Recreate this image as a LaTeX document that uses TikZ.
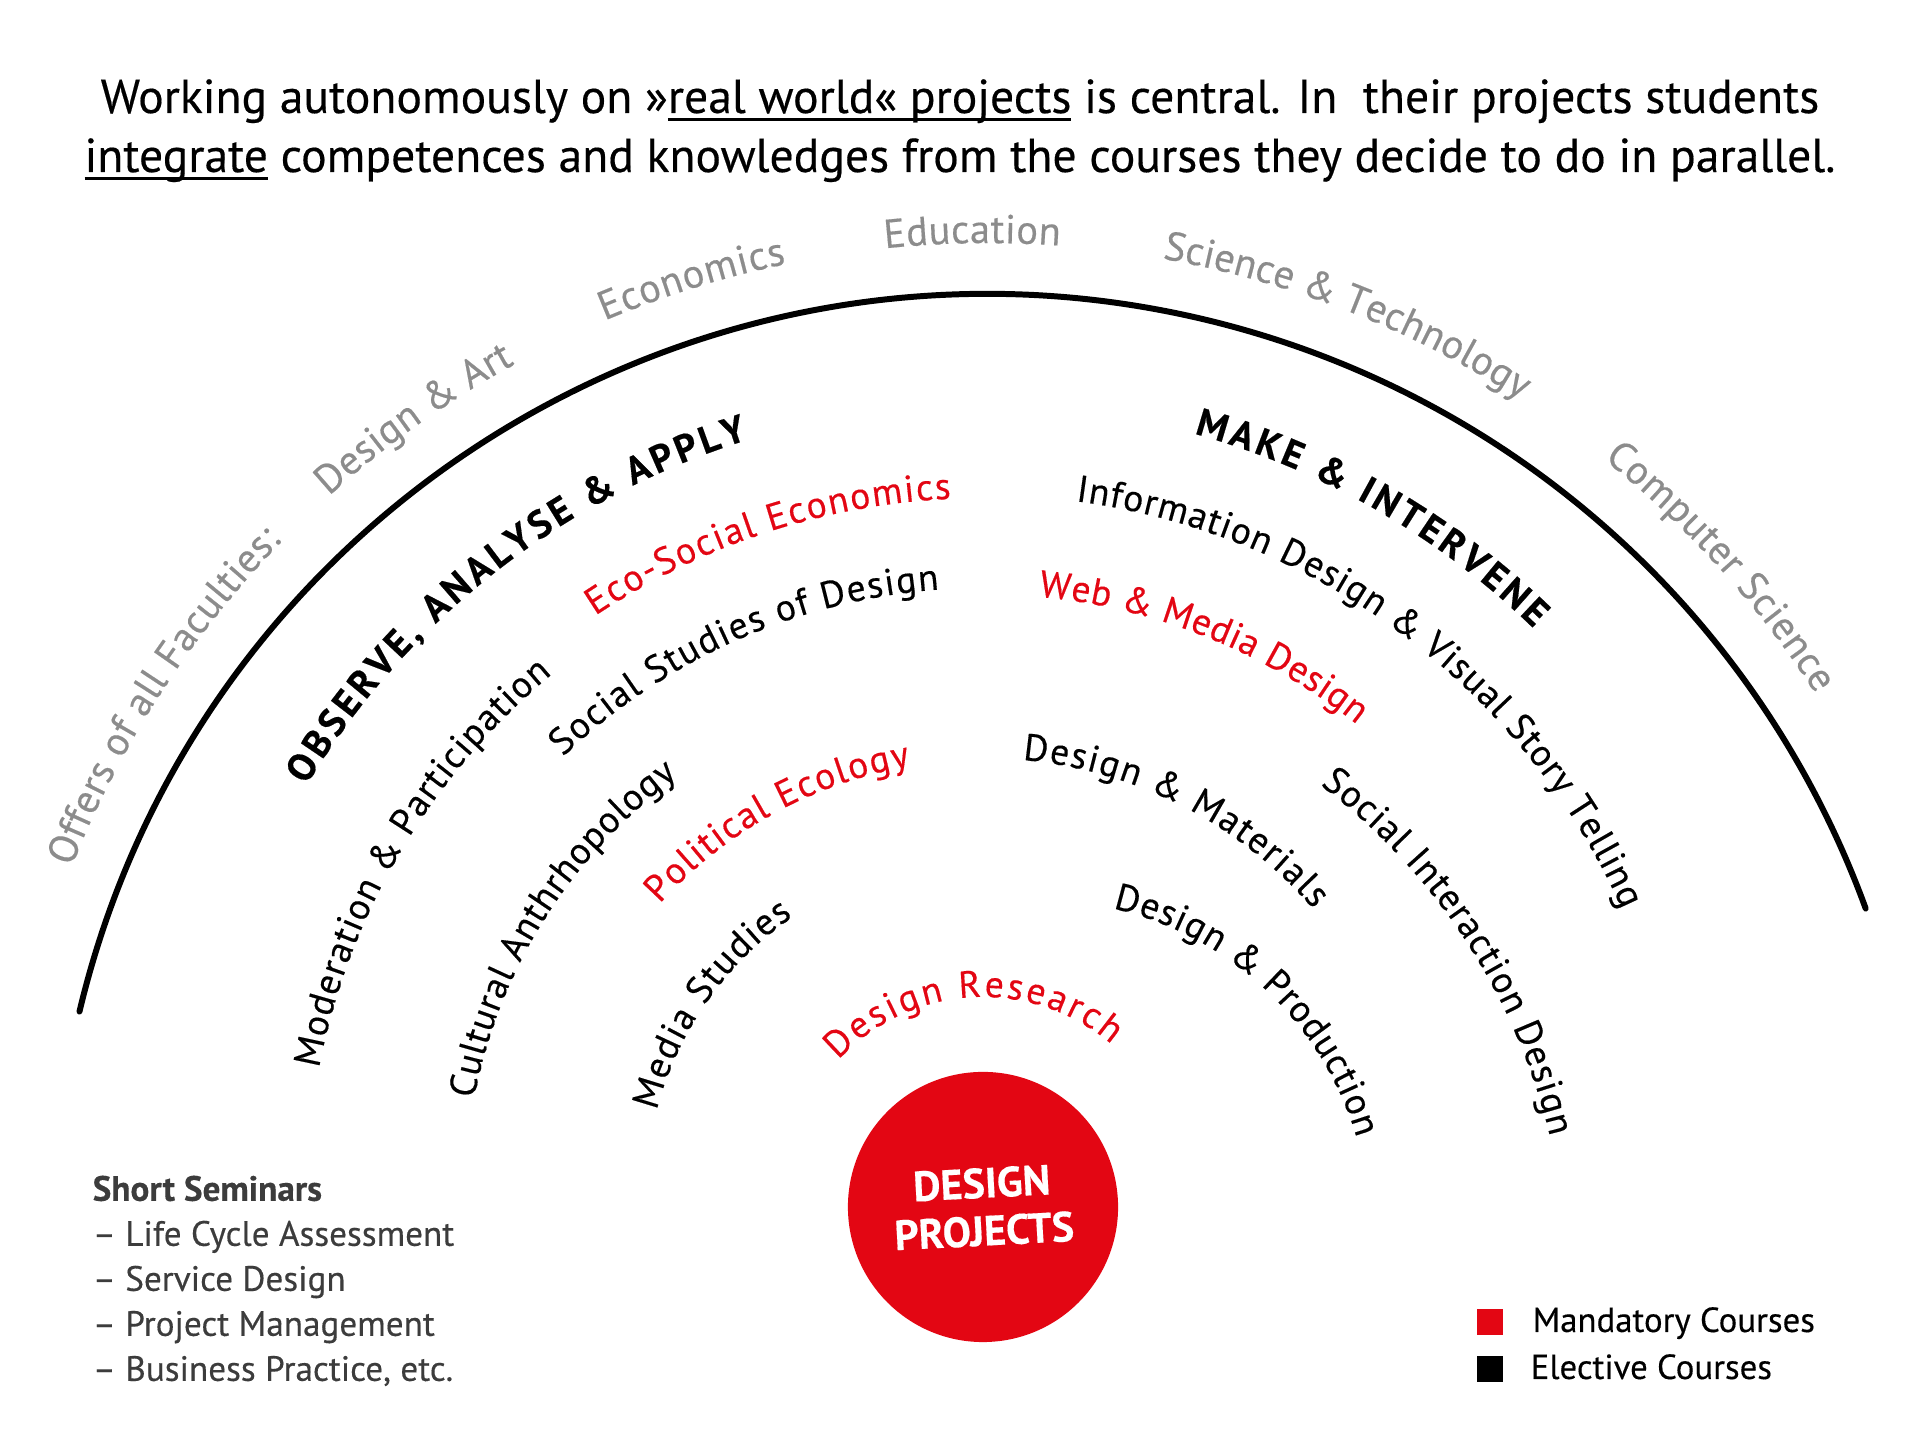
\documentclass[tikz,border=0pt]{standalone}
\usepackage{fontspec}
\setmainfont{PT Sans}[FakeBold=0.35]
\usetikzlibrary{decorations.text}
\definecolor{hsred}{RGB}{227,6,19}
\definecolor{facgray}{HTML}{8C8C8C}
\definecolor{semgray}{HTML}{3C3C3C}
\newcommand\facstyle{\fontsize{11.5}{14}\selectfont\color{facgray}}
\newcommand\crsstyle{\fontsize{10.7}{13}\selectfont}
\newcommand\redstyle{\fontsize{10.7}{13}\selectfont\color{hsred}}
\newcommand\fieldstyle{\fontsize{11}{13}\selectfont\bfseries}
\newcommand\ulin[1]{\setbox0\hbox{#1}\rlap{\rule[-2.4pt]{\wd0}{0.95pt}}\box0\relax}
\newcommand\arclabel[6]{\path[decorate,decoration={text along path,text align={fit to path},text={|#5|#6}}] (#1) ++(#3:#2) arc[start angle=#3,end angle=#4,radius=#2];}

\begin{document}
\begin{tikzpicture}[x=0.01cm,y=0.01cm]
  \useasboundingbox (0,0) rectangle (1920,1440);
  \coordinate (rim) at (988,212);
  \coordinate (hub) at (983,245);
  \coordinate (sid) at (945,159);
  \coordinate (dpc) at (1039,209);

  % headline
  \node (head1) [anchor=base,font=\fontsize{13.55}{16}\selectfont] at (960,1327) {Working autonomously on »\ulin{real world« projects} is central. In\ \ their projects students};
  \node (head2) [anchor=base,font=\fontsize{13.55}{16}\selectfont] at (960,1268) {\ulin{integrate} competences and knowledges from the courses they decide to do in parallel.};

  \draw [line width=1.7pt,line cap=round] (rim) ++(166.6:934) arc[start angle=166.6,end angle=20,radius=934];

  % faculties
  \arclabel{rim}{985}{158.5}{135.8}{\facstyle}{Offers of all Faculties:}
  \arclabel{rim}{985}{132.0}{118.7}{\facstyle}{Design {\&} Art}
  \arclabel{rim}{985}{112.9}{101.8}{\facstyle}{Economics}
  \arclabel{rim}{985}{96.0}{85.8}{\facstyle}{Education}
  \arclabel{rim}{985}{79.8}{57.3}{\facstyle}{Science {\&} Technology}
  \arclabel{rim}{985}{51.3}{32.8}{\facstyle}{Computer Science}

  % left half
  \arclabel{hub}{791}{148.8}{107.3}{\fieldstyle}{OBSERVE, ANALYSE {\&} APPLY}
  \arclabel{hub}{697}{123.8}{92.6}{\redstyle}{Eco-Social Economics}
  \arclabel{hub}{676}{169.2}{129.6}{\crsstyle}{Moderation {\&} Participation}
  \arclabel{hub}{607}{133.8}{94.1}{\crsstyle}{Social Studies of Design}
  \arclabel{hub}{518}{169.3}{126.1}{\crsstyle}{Cultural Anthrhopology}
  \arclabel{hub}{435}{138.0}{99.6}{\redstyle}{Political Ecology}
  \arclabel{hub}{337}{165.5}{124.3}{\crsstyle}{Media Studies}
  \arclabel{hub}{198}{137.0}{49.5}{\redstyle}{Design Research}

  % right half
  \arclabel{hub}{790}{74.5}{45.8}{\fieldstyle}{MAKE {\&} INTERVENE}
  \arclabel{hub}{700}{82.4}{24.1}{\crsstyle}{Information Design {\&} Visual Story Telling}
  \arclabel{hub}{601}{84.7}{51.5}{\redstyle}{Web {\&} Media Design}
  \arclabel{hub}{437}{84.8}{40.8}{\crsstyle}{Design {\&} Materials}
  \arclabel{sid}{622}{52.9}{13.4}{\crsstyle}{Social Interaction Design}
  \arclabel{dpc}{331}{77.1}{16.3}{\crsstyle}{Design {\&} Production}

  \node (core) [circle,fill=hsred,minimum size=2.7cm,inner sep=0pt,rotate=3,text=white,align=center,font=\fontsize{12}{13.6}\selectfont\bfseries] at (983,233) {DESIGN\\PROJECTS};

  \node (seminars) [anchor=north west,align=left,inner sep=0pt,text=semgray,font=\fontsize{10}{12.8}\selectfont] at (92,265) {\textbf{Short Seminars}\\– Life Cycle Assessment\\– Service Design\\– Project Management\\– Business Practice, etc.};

  % legend
  \node (mandbox) [fill=hsred,minimum size=0.26cm,inner sep=0pt] at (1490,118) {};
  \node (electbox) [fill=black,minimum size=0.26cm,inner sep=0pt] at (1490,71) {};
  \node (mand) [anchor=base west,inner sep=0pt,font=\fontsize{9.9}{12}\selectfont] at (1532,108) {Mandatory Courses};
  \node (elect) [anchor=base west,inner sep=0pt,font=\fontsize{9.9}{12}\selectfont] at (1530,61) {Elective Courses};
\end{tikzpicture}
\end{document}
